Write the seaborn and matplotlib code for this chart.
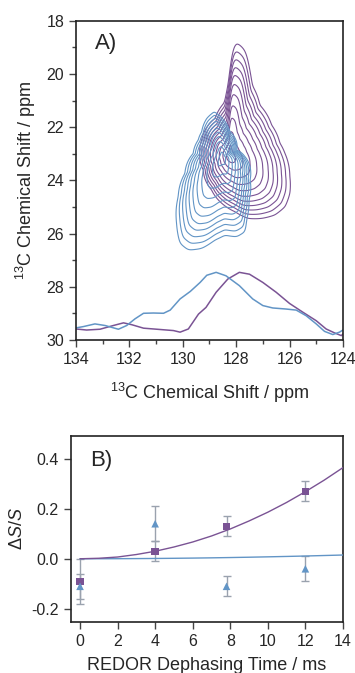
import numpy as np
import matplotlib
matplotlib.use("Agg")
import matplotlib.pyplot as plt
import seaborn as sns

# ---- panel A: outermost contour of each peak (ppm) ----
purple_outline_x = [127.98, 127.67, 127.48, 127.40, 127.11, 126.67, 126.36, 126.17, 125.99,
                    125.99, 126.17, 126.55, 127.05, 127.55, 128.04, 128.54, 128.92, 129.23,
                    129.36, 129.29, 128.79, 128.42, 128.23, 128.19, 128.11]
purple_outline_y = [18.81, 19.10, 19.92, 20.42, 21.17, 21.92, 22.60, 22.99, 23.86,
                    24.49, 24.99, 25.30, 25.43, 25.43, 25.18, 24.86, 24.36, 23.61,
                    22.99, 22.48, 21.67, 21.05, 20.17, 19.29, 18.91]
purple_core = (128.25, 23.1)

blue_outline_x = [128.82, 128.23, 127.98, 127.67, 127.48, 127.52, 127.61, 127.67, 127.98,
                  128.42, 128.79, 129.29, 129.79, 130.10, 130.23, 130.17, 129.92, 129.61,
                  129.42, 129.29, 129.10]
blue_outline_y = [21.42, 22.17, 22.86, 23.11, 23.99, 24.74, 25.49, 25.93, 26.12,
                  26.06, 26.24, 26.56, 26.62, 26.37, 25.62, 24.62, 23.74, 22.99,
                  22.48, 22.17, 21.67]
blue_core = (128.5, 23.1)

# relative size of each nested contour (1 = outermost)
contour_levels = [0.1, 0.22, 0.34, 0.45, 0.55, 0.64, 0.72, 0.79, 0.86, 0.93, 1.0]

# 1D projections under the contours (x ppm, y in ppm-axis units)
blue_trace_x = [134.0, 133.72, 133.29, 132.91, 132.41, 132.1, 131.79, 131.47, 131.1, 130.72,
                130.47, 130.1, 129.72, 129.35, 129.1, 128.75, 128.38, 127.88, 127.38, 127.0,
                126.63, 126.13, 125.75, 125.38, 125.0, 124.69, 124.38, 124.13, 124.0]
blue_trace_y = [29.55, 29.5, 29.4, 29.46, 29.6, 29.46, 29.21, 29.0, 28.99, 29.0,
                28.88, 28.46, 28.18, 27.84, 27.57, 27.46, 27.59, 27.96, 28.46, 28.71,
                28.8, 28.84, 28.88, 29.09, 29.4, 29.68, 29.8, 29.71, 29.63]
purple_trace_x = [134.0, 133.6, 133.1, 132.6, 132.22, 131.91, 131.47, 130.85, 130.35, 130.1,
                  129.79, 129.41, 129.13, 128.75, 128.31, 127.88, 127.5, 127.0, 126.5, 126.0,
                  125.5, 125.0, 124.63, 124.31, 124.06, 124.0]
purple_trace_y = [29.59, 29.63, 29.6, 29.46, 29.36, 29.43, 29.56, 29.61, 29.65, 29.71,
                  29.59, 29.03, 28.78, 28.21, 27.71, 27.46, 27.53, 27.84, 28.21, 28.63,
                  28.96, 29.28, 29.59, 29.74, 29.84, 29.78]

# ---- panel B: REDOR data ----
t_purple = [0, 4, 7.8, 12]
ds_purple = [-0.09, 0.03, 0.13, 0.27]
err_purple = [0.09, 0.04, 0.04, 0.04]
t_blue = [0, 4, 7.8, 12]
ds_blue = [-0.11, 0.14, -0.11, -0.04]
err_blue = [0.05, 0.07, 0.04, 0.05]

fit_t = [0, 1, 2, 3, 4, 5, 6, 7, 8, 9, 10, 11, 12, 13, 14]
fit_purple = [0, 0.002, 0.007, 0.017, 0.03, 0.047, 0.067, 0.091, 0.119, 0.151,
              0.186, 0.225, 0.268, 0.314, 0.364]
fit_blue = [0, 0.0001, 0.0003, 0.0007, 0.0012, 0.0019, 0.0027, 0.0037, 0.0049,
            0.0062, 0.0077, 0.0093, 0.011, 0.013, 0.015]

PURPLE = "#7a5394"
BLUE = "#6295c6"
ERR = "#9aa2ae"

sns.set_theme(style="ticks")
plt.rcParams["font.family"] = ["Liberation Sans", "DejaVu Sans"]
plt.rcParams["mathtext.fontset"] = "custom"
plt.rcParams["mathtext.rm"] = "Liberation Sans"
plt.rcParams["mathtext.it"] = "Liberation Sans:italic"
plt.rcParams["mathtext.default"] = "regular"

fig = plt.figure(figsize=(3.55, 6.73), dpi=100)
axA = fig.add_axes([0.214, 0.495, 0.752, 0.474])
axB = fig.add_axes([0.199, 0.076, 0.767, 0.276])


def nested_field(ox, oy, core, X, Y):
    # distance from the core relative to the outline radius in the same direction,
    # so every contour is a shrunken copy of the outline
    ox = np.asarray(ox); oy = np.asarray(oy)
    th = np.arctan2(oy - core[1], ox - core[0])
    rad = np.hypot(ox - core[0], oy - core[1])
    order = np.argsort(th)
    # light smoothing of the outline radius to round off the corners
    tt = np.linspace(-np.pi, np.pi, 1440, endpoint=False)
    rr = np.interp(tt, th[order], rad[order], period=2 * np.pi)
    k = np.exp(-0.5 * (np.arange(-12, 13) / 5.0) ** 2)
    k /= k.sum()
    rr = np.convolve(np.r_[rr[-12:], rr, rr[:12]], k, mode="valid")
    tg = np.arctan2(Y - core[1], X - core[0])
    R = np.interp(tg, tt, rr, period=2 * np.pi)
    return np.hypot(X - core[0], Y - core[1]) / R


gx = np.linspace(124, 134, 600)
gy = np.linspace(18, 30, 720)
GX, GY = np.meshgrid(gx, gy)
axA.contour(GX, GY, nested_field(purple_outline_x, purple_outline_y, purple_core, GX, GY),
            levels=contour_levels, colors=PURPLE, linewidths=0.8)
axA.contour(GX, GY, nested_field(blue_outline_x, blue_outline_y, blue_core, GX, GY),
            levels=contour_levels, colors=BLUE, linewidths=0.8)

sns.lineplot(x=purple_trace_x, y=purple_trace_y, sort=False, ax=axA,
             color=PURPLE, lw=1.1)
sns.lineplot(x=blue_trace_x, y=blue_trace_y, sort=False, ax=axA,
             color=BLUE, lw=1.1)

axA.set_xlim(134, 124)
axA.set_ylim(30, 18)
axA.set_xticks(np.arange(124, 135, 2))
axA.set_xticks(np.arange(125, 134, 2), minor=True)
axA.set_yticks(np.arange(18, 31, 2))
axA.set_yticks(np.arange(19, 30, 2), minor=True)
axA.set_xlabel("$^{13}$C Chemical Shift / ppm", fontsize=13, labelpad=10)
axA.set_ylabel("$^{13}$C Chemical Shift / ppm", fontsize=13, labelpad=6)
axA.text(0.07, 0.93, "A)", transform=axA.transAxes, fontsize=16, va="center")

# panel B
axB.errorbar(t_purple, ds_purple, yerr=err_purple, fmt="none", ecolor=ERR,
             elinewidth=1.0, capsize=3, capthick=1.0, zorder=2)
axB.errorbar(t_blue, ds_blue, yerr=err_blue, fmt="none", ecolor=ERR,
             elinewidth=1.0, capsize=3, capthick=1.0, zorder=2)
sns.lineplot(x=fit_t, y=fit_blue, ax=axB, color=BLUE, lw=1.0, zorder=3)
sns.lineplot(x=fit_t, y=fit_purple, ax=axB, color=PURPLE, lw=1.0, zorder=3)
sns.scatterplot(x=t_purple, y=ds_purple, ax=axB, marker="s", s=28,
                color=PURPLE, edgecolor="none", zorder=4)
sns.scatterplot(x=t_blue, y=ds_blue, ax=axB, marker="^", s=30,
                color=BLUE, edgecolor="none", zorder=4)

axB.set_xlim(-0.5, 14)
axB.set_ylim(-0.252, 0.49)
axB.set_xticks(np.arange(0, 15, 2))
axB.set_yticks([-0.2, 0.0, 0.2, 0.4])
axB.set_yticklabels(["-0.2", "0.0", "0.2", "0.4"])
axB.set_xlabel("REDOR Dephasing Time / ms", fontsize=13, labelpad=6)
axB.set_ylabel("Δ$\\mathit{S}$/$\\mathit{S}$", fontsize=13, labelpad=4)
axB.text(0.07, 0.87, "B)", transform=axB.transAxes, fontsize=16, va="center")

for ax in (axA, axB):
    for s in ax.spines.values():
        s.set_visible(True)
        s.set_color("#222222")
        s.set_linewidth(1.2)
    ax.tick_params(which="major", direction="out", length=5, width=1.0,
                   labelsize=11.5, color="#444444", top=False, right=False)
    ax.tick_params(which="minor", direction="out", length=3, width=1.0,
                   color="#444444", top=False, right=False)

fig.savefig("out.png", dpi=100)
